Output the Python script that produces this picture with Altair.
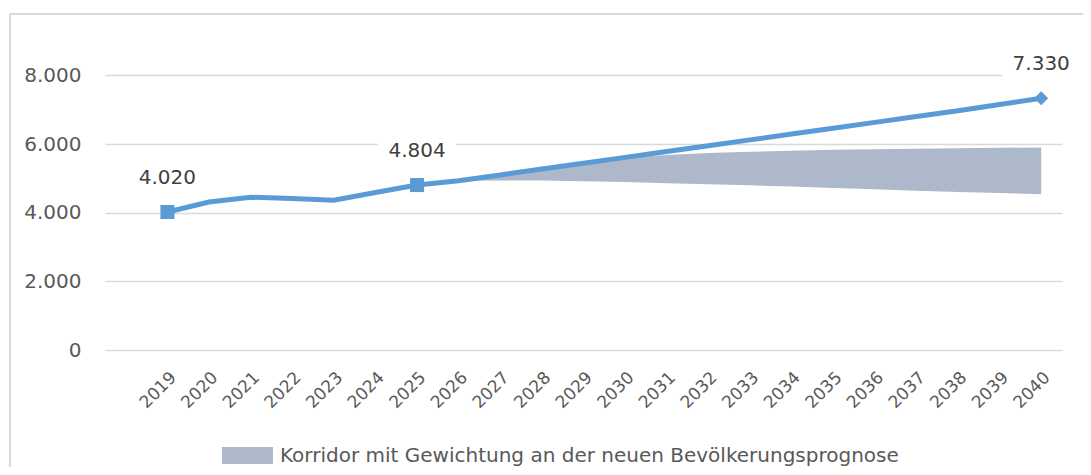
import altair as alt
import pandas as pd

# ---- data ----
years = list(range(2019, 2041))
values = [4020, 4310, 4450, 4410, 4365, 4585, 4804, 4930, 5100, 5270, 5440,
          5610, 5780, 5950, 6120, 6290, 6460, 6630, 6800, 6970, 7150, 7330]

band_years = list(range(2026, 2041))
band_low = [4930, 4940, 4935, 4915, 4890, 4860, 4830, 4795, 4760, 4720,
            4680, 4640, 4605, 4570, 4540]
band_high = [4930, 5100, 5270, 5440, 5600, 5680, 5735, 5775, 5805, 5830,
             5850, 5865, 5878, 5890, 5900]
band_name = "Korridor mit Gewichtung an der neuen Bevölkerungsprognose"

marker_years = [2019, 2025, 2040]
marker_shapes = ["square", "square", "diamond"]

y_ticks = [0, 2000, 4000, 6000, 8000]

LINE = "#5B9BD5"
BAND = "#ADB9CA"
GRID = "#D9D9D9"
TXT = "#595959"
FONT = "DejaVu Sans"

df_line = pd.DataFrame({"year": years, "value": values})
df_band = pd.DataFrame({"year": band_years, "low": band_low, "high": band_high,
                        "series": [band_name] * len(band_years)})
val_map = dict(zip(years, values))
df_mark = pd.DataFrame({
    "year": marker_years,
    "value": [val_map[y] for y in marker_years],
    "shape": marker_shapes,
    "label": [f"{val_map[y]:,}".replace(",", ".") for y in marker_years],
})

xscale = alt.Scale(domain=[2017.5, 2040.5], nice=False, zero=False)
yscale = alt.Scale(domain=[0, 9000], nice=False)

x_axis = alt.Axis(values=years, format="d", labelAngle=-45, grid=False,
                  domain=False, ticks=False, labelPadding=19, labelFontSize=17,
                  labelColor=TXT, labelFont=FONT, title=None,
                  labelOverlap=False, labelBound=False, labelFlush=False)
y_axis = alt.Axis(values=y_ticks, grid=True, gridColor=GRID, gridWidth=1.5,
                  domain=False, ticks=False, labelPadding=24, labelFontSize=20,
                  labelColor=TXT, labelFont=FONT, title=None,
                  labelExpr="replace(format(datum.value, ','), ',', '.')")

band = alt.Chart(df_band).mark_area(opacity=1).encode(
    x=alt.X("year:Q", scale=xscale, axis=x_axis),
    y=alt.Y("low:Q", scale=yscale, axis=y_axis),
    y2="high:Q",
    color=alt.Color("series:N", scale=alt.Scale(range=[BAND]),
                    legend=alt.Legend(title=None, orient="none", legendX=117,
                                      legendY=389, labelFontSize=20,
                                      labelFont=FONT, labelColor=TXT,
                                      labelLimit=1000,
                                      symbolType="M-1,-0.333H1V0.333H-1Z",
                                      symbolSize=2601, symbolStrokeWidth=0,
                                      symbolOpacity=1, labelOffset=7)),
)

label_bg = alt.Chart(df_mark).mark_point(
    filled=True, color="white", opacity=1, size=6084,
    shape="M-1,-0.4H1V0.4H-1Z", yOffset=-33, strokeWidth=0,
).encode(x=alt.X("year:Q", scale=xscale), y=alt.Y("value:Q", scale=yscale))

line = alt.Chart(df_line).mark_line(color=LINE, strokeWidth=5).encode(
    x=alt.X("year:Q", scale=xscale), y=alt.Y("value:Q", scale=yscale))

markers = alt.Chart(df_mark).mark_point(filled=True, color=LINE, opacity=1,
                                         size=196).encode(
    x=alt.X("year:Q", scale=xscale), y=alt.Y("value:Q", scale=yscale),
    shape=alt.Shape("shape:N", scale=None, legend=None))

labels = alt.Chart(df_mark).mark_text(fontSize=20, font=FONT, color="#404040",
                                       dy=-34, baseline="middle").encode(
    x=alt.X("year:Q", scale=xscale), y=alt.Y("value:Q", scale=yscale),
    text="label:N")

frame_left = alt.Chart(df_line).mark_rule(color=GRID, strokeWidth=2).encode(
    x=alt.value(-95), y=alt.value(-27), y2=alt.value(440))
frame_top = alt.Chart(df_line).mark_rule(color=GRID, strokeWidth=2).encode(
    x=alt.value(-95), x2=alt.value(990), y=alt.value(-27))

chart = alt.layer(band, label_bg, line, markers, labels, frame_left, frame_top).properties(
    width=957, height=309,
    padding={"left": 97, "top": 33, "right": 21, "bottom": 117},
    autosize=alt.AutoSizeParams(type="none"),
    background="white",
).configure_view(stroke="transparent", strokeWidth=0)

chart.save("out.html", embed_options={"renderer": "svg", "actions": False})
